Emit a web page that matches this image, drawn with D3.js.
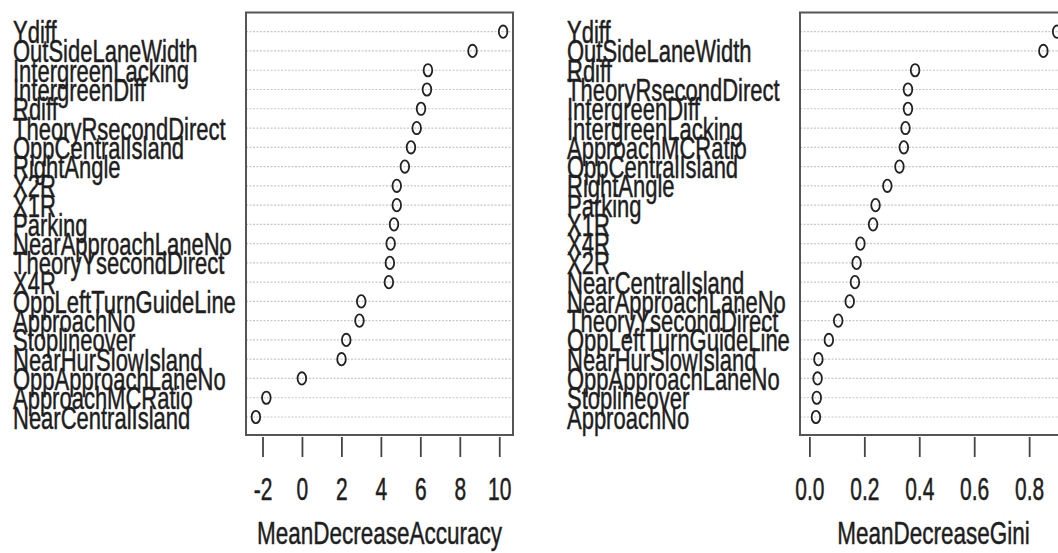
<!DOCTYPE html>
<html>
<head>
<meta charset="utf-8">
<script src="https://cdn.jsdelivr.net/npm/d3@7"></script>
<style>
  body { margin: 0; background: #fff; }
  text { font-family: "Liberation Sans", Arial, sans-serif; fill: #1e1e1e; }
</style>
</head>
<body>
<script>
// variable importance, left panel
var accLabels = ["Ydiff", "OutSideLaneWidth", "IntergreenLacking", "IntergreenDiff", "Rdiff",
  "TheoryRsecondDirect", "OppCentralIsland", "RightAngle", "X2R", "X1R", "Parking",
  "NearApproachLaneNo", "TheoryYsecondDirect", "X4R", "OppLeftTurnGuideLine", "ApproachNo",
  "Stoplineover", "NearHurSlowIsland", "OppApproachLaneNo", "ApproachMCRatio", "NearCentralIsland"];
var accValues = [10.17, 8.62, 6.36, 6.31, 6.01, 5.79, 5.50, 5.19, 4.78, 4.78, 4.64,
  4.47, 4.43, 4.38, 2.98, 2.89, 2.22, 1.98, -0.03, -1.83, -2.36];
var accTicks = [-2, 0, 2, 4, 6, 8, 10];

// right panel
var giniLabels = ["Ydiff", "OutSideLaneWidth", "Rdiff", "TheoryRsecondDirect", "IntergreenDiff",
  "IntergreenLacking", "ApproachMCRatio", "OppCentralIsland", "RightAngle", "Parking", "X1R",
  "X4R", "X2R", "NearCentralIsland", "NearApproachLaneNo", "TheoryYsecondDirect",
  "OppLeftTurnGuideLine", "NearHurSlowIsland", "OppApproachLaneNo", "Stoplineover", "ApproachNo"];
var giniValues = [0.90, 0.85, 0.383, 0.357, 0.357, 0.348, 0.342, 0.326, 0.282, 0.239, 0.230,
  0.184, 0.170, 0.164, 0.145, 0.103, 0.069, 0.031, 0.028, 0.025, 0.022];
var giniTicks = [0, 0.2, 0.4, 0.6, 0.8];

var width = 1058, height = 553;

var svg = d3.select('body').append('svg')
  .attr('width', width)
  .attr('height', height);

svg.append('rect').attr('width', width).attr('height', height).attr('fill', '#fff');

// the picture is stretched vertically, so text gets a y scale
function stretchedText(g, x, y, str, size, sy, anchor) {
  return g.append('text')
    .attr('transform', 'translate(' + x + ',' + y + ') scale(1,' + sy + ')')
    .attr('text-anchor', anchor)
    .style('font-size', size + 'px')
    .style('stroke', '#1e1e1e')
    .style('stroke-width', 0.35)
    .text(str);
}

function drawPanel(labels, values, ticks, xmin, tickFmt, title, boxLeft, labelX) {
  var boxTop = 12.5, boxBottom = 435, boxW = 267;
  var xmax = d3.max(values);
  var pad = (xmax - xmin) * 0.04;

  var x = d3.scaleLinear()
    .domain([xmin - pad, xmax + pad])
    .range([boxLeft, boxLeft + boxW]);
  var y = d3.scalePoint()
    .domain(labels)
    .range([31.7, 417]);

  var g = svg.append('g');

  // dotted guide lines
  g.selectAll('line.grid')
    .data(labels)
    .enter()
    .append('line')
    .attr('class', 'grid')
    .attr('x1', boxLeft)
    .attr('x2', boxLeft + boxW)
    .attr('y1', d => y(d))
    .attr('y2', d => y(d))
    .style('stroke', '#c8c8c8')
    .style('stroke-width', 1.2)
    .style('stroke-dasharray', '2,1.5');

  g.append('rect')
    .attr('x', boxLeft)
    .attr('y', boxTop)
    .attr('width', boxW)
    .attr('height', boxBottom - boxTop)
    .attr('fill', 'none')
    .style('stroke', '#555')
    .style('stroke-width', 2);

  g.selectAll('ellipse')
    .data(values)
    .enter()
    .append('ellipse')
    .attr('cx', d => x(d))
    .attr('cy', (d, i) => y(labels[i]))
    .attr('rx', 4.3)
    .attr('ry', 6.2)
    .attr('fill', 'none')
    .style('stroke', '#222')
    .style('stroke-width', 1.8);

  // row labels
  labels.forEach(function(d) {
    stretchedText(g, labelX, y(d) + 11.5, d, 22, 1.42, 'start');
  });

  // x axis: ticks only, the box gives the line
  ticks.forEach(function(t) {
    g.append('line')
      .attr('x1', x(t)).attr('x2', x(t))
      .attr('y1', 437).attr('y2', 457)
      .style('stroke', '#444')
      .style('stroke-width', 1.8);
    stretchedText(g, x(t), 500, tickFmt(t).replace('\u2212', '-'), 21, 1.5, 'middle');
  });

  stretchedText(g, boxLeft + boxW / 2, 544, title, 22.5, 1.42, 'middle');
}

drawPanel(accLabels, accValues, accTicks, d3.min(accValues), d3.format('d'),
  'MeanDecreaseAccuracy', 246, 13);
drawPanel(giniLabels, giniValues, giniTicks, 0, d3.format('.1f'),
  'MeanDecreaseGini', 800, 567);
</script>
</body>
</html>
